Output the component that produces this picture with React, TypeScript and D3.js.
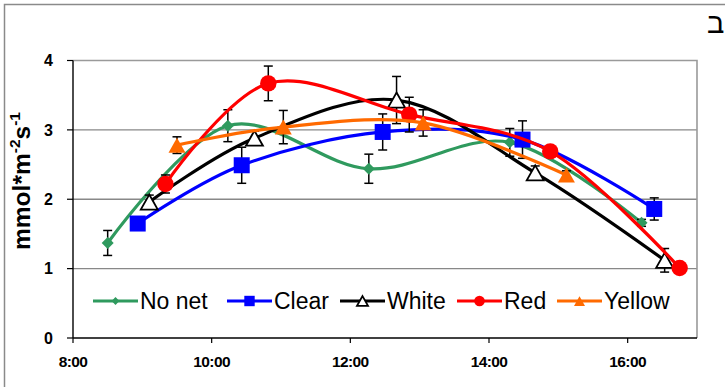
import React from "react";
import * as d3 from "d3";

// Sampling times (h:mm) and mean values with their error margins for each net colour
const noNetTimes = ["8:30", "10:14", "12:16", "14:18", "16:12"];
const noNetValues = [1.37, 3.06, 2.44, 2.82, 1.66];
const noNetErrors = [0.18, 0.23, 0.21, 0.2, 0.05];

const clearTimes = ["8:56", "10:26", "12:28", "14:29", "16:23"];
const clearValues = [1.65, 2.49, 2.97, 2.86, 1.86];
const clearErrors = [0.05, 0.26, 0.26, 0.27, 0.16];

const whiteTimes = ["9:06", "10:37", "12:40", "14:40", "16:32"];
const whiteValues = [1.96, 2.88, 3.43, 2.38, 1.12];
const whiteErrors = [0.1, 0.1, 0.34, 0.1, 0.17];

const redTimes = ["9:20", "10:49", "12:51", "14:53", "16:45"];
const redValues = [2.22, 3.67, 3.22, 2.69, 1.01];
const redErrors = [0.13, 0.25, 0.25, 0.08, 0.03];

const yellowTimes = ["9:30", "11:02", "13:03", "15:07"];
const yellowValues = [2.78, 3.04, 3.1, 2.35];
const yellowErrors = [0.12, 0.24, 0.19, 0.06];

const seriesNames = ["No net", "Clear", "White", "Red", "Yellow"];

const xTickLabels = ["8:00", "10:00", "12:00", "14:00", "16:00"];
const yTicks = [0, 1, 2, 3, 4];
const yGridValues = [1, 2, 3];

const toHours = (s: string) => {
  const [h, m] = s.split(":").map(Number);
  return h + m / 60;
};

type Marker = "diamond" | "square" | "triangleOpen" | "circle" | "triangle";

interface Series {
  name: string;
  color: string;
  marker: Marker;
  times: string[];
  values: number[];
  errors: number[];
}

const series: Series[] = [
  { name: seriesNames[0], color: "#2F9A5E", marker: "diamond", times: noNetTimes, values: noNetValues, errors: noNetErrors },
  { name: seriesNames[1], color: "#0000FF", marker: "square", times: clearTimes, values: clearValues, errors: clearErrors },
  { name: seriesNames[2], color: "#000000", marker: "triangleOpen", times: whiteTimes, values: whiteValues, errors: whiteErrors },
  { name: seriesNames[3], color: "#FF0000", marker: "circle", times: redTimes, values: redValues, errors: redErrors },
  { name: seriesNames[4], color: "#FF6A00", marker: "triangle", times: yellowTimes, values: yellowValues, errors: yellowErrors },
];

const W = 725;
const H = 387;
const x = d3.scaleLinear().domain([8, 17]).range([73, 697]);
const y = d3.scaleLinear().domain([0, 4]).range([338, 60.5]);

const smooth = d3
  .line<[number, number]>()
  .x((d) => x(d[0]))
  .y((d) => y(d[1]))
  .curve(d3.curveCardinal.tension(0));

function MarkerShape({ kind, cx, cy, color, scale = 1 }: { kind: Marker; cx: number; cy: number; color: string; scale?: number }) {
  if (kind === "diamond") {
    const r = 6 * scale;
    return <polygon points={`${cx},${cy - r} ${cx + r},${cy} ${cx},${cy + r} ${cx - r},${cy}`} fill={color} />;
  }
  if (kind === "square") {
    const s = 16 * scale;
    return <rect x={cx - s / 2} y={cy - s / 2} width={s} height={s} fill={color} />;
  }
  if (kind === "circle") {
    return <circle cx={cx} cy={cy} r={8.2 * scale} fill={color} />;
  }
  const w = 17 * scale;
  const h = 15 * scale;
  const pts = `${cx},${cy - h / 2} ${cx + w / 2},${cy + h / 2} ${cx - w / 2},${cy + h / 2}`;
  if (kind === "triangleOpen") {
    return <polygon points={pts} fill="#fff" stroke="#000" strokeWidth={1.8} strokeLinejoin="miter" />;
  }
  return <polygon points={pts} fill={color} />;
}

const legendX = [93, 227, 340, 457, 557];
const legendY = 301;

export default function App() {
  const tickFont = "'Liberation Sans', Arial, sans-serif";
  return (
    <svg
      width={W}
      height={H}
      style={{ position: "absolute", left: 0, top: 0, background: "#fff" }}
      fontFamily={tickFont}
    >
      <rect x={0} y={0} width={W} height={H} fill="#fff" />
      {/* outer chart frame */}
      <path d={`M4.5,${H} V4.5 H${W}`} fill="none" stroke="#8a8a8a" strokeWidth={1.5} />
      <text x={707} y={33} fontSize={29} fontFamily="'Liberation Sans', 'DejaVu Sans', sans-serif" fill="#000">
        ב
      </text>

      {/* gridlines and plot frame */}
      {yGridValues.map((v) => (
        <line key={v} x1={x(8)} x2={x(17)} y1={y(v)} y2={y(v)} stroke="#888" strokeWidth={1.4} />
      ))}
      <path d={`M${x(8)},${y(4)} H${x(17)} V${y(0)}`} fill="none" stroke="#9a9a9a" strokeWidth={1.6} />

      {/* axes */}
      <line x1={x(8)} x2={x(17)} y1={y(0)} y2={y(0)} stroke="#000" strokeWidth={1.4} />
      <line x1={x(8)} x2={x(8)} y1={y(0)} y2={y(4)} stroke="#000" strokeWidth={1.4} />
      {yTicks.map((v) => (
        <g key={v}>
          <line x1={x(8) - 6} x2={x(8)} y1={y(v)} y2={y(v)} stroke="#000" strokeWidth={1.2} />
          <text x={53} y={y(v)} dy="0.36em" textAnchor="end" fontSize={16} fontWeight="bold">
            {v}
          </text>
        </g>
      ))}
      {xTickLabels.map((t) => (
        <g key={t}>
          <line x1={x(toHours(t))} x2={x(toHours(t))} y1={y(0)} y2={y(0) + 5} stroke="#000" strokeWidth={1.2} />
          <text x={x(toHours(t))} y={366.5} textAnchor="middle" fontSize={15.5} fontWeight="bold" letterSpacing={-0.6}>
            {t}
          </text>
        </g>
      ))}

      {/* y-axis title */}
      <text
        transform="translate(30,181) rotate(-90)"
        textAnchor="middle"
        fontSize={24.5}
        fontWeight="bold"
        fill="#000"
      >
        mmol*m
        <tspan fontSize={15.5} dy={-10}>-2</tspan>
        <tspan dy={10}>s</tspan>
        <tspan fontSize={15.5} dy={-10}>-1</tspan>
      </text>

      {/* series: smoothed line, error bars, markers */}
      {series.map((s) => {
        const pts: [number, number][] = s.times.map((t, i) => [toHours(t), s.values[i]]);
        return (
          <g key={s.name}>
            <path d={smooth(pts) || ""} fill="none" stroke={s.color} strokeWidth={3.2} />
            {pts.map((p, i) => {
              const cx = x(p[0]);
              const top = y(p[1] + s.errors[i]);
              const bot = y(p[1] - s.errors[i]);
              return (
                <g key={i} stroke="#000" strokeWidth={1.5}>
                  <line x1={cx} x2={cx} y1={top} y2={bot} />
                  <line x1={cx - 4.5} x2={cx + 4.5} y1={top} y2={top} />
                  <line x1={cx - 4.5} x2={cx + 4.5} y1={bot} y2={bot} />
                </g>
              );
            })}
            {pts.map((p, i) => (
              <MarkerShape key={i} kind={s.marker} cx={x(p[0])} cy={y(p[1])} color={s.color} />
            ))}
          </g>
        );
      })}

      {/* legend */}
      {series.map((s, i) => {
        const lx = legendX[i];
        return (
          <g key={s.name}>
            <line x1={lx} x2={lx + 45} y1={legendY} y2={legendY} stroke={s.color} strokeWidth={3.2} />
            <MarkerShape kind={s.marker} cx={lx + 22.5} cy={legendY} color={s.color} scale={0.65} />
            <text x={lx + 47} y={308.5} fontSize={23} fill="#000">
              {s.name}
            </text>
          </g>
        );
      })}
    </svg>
  );
}
